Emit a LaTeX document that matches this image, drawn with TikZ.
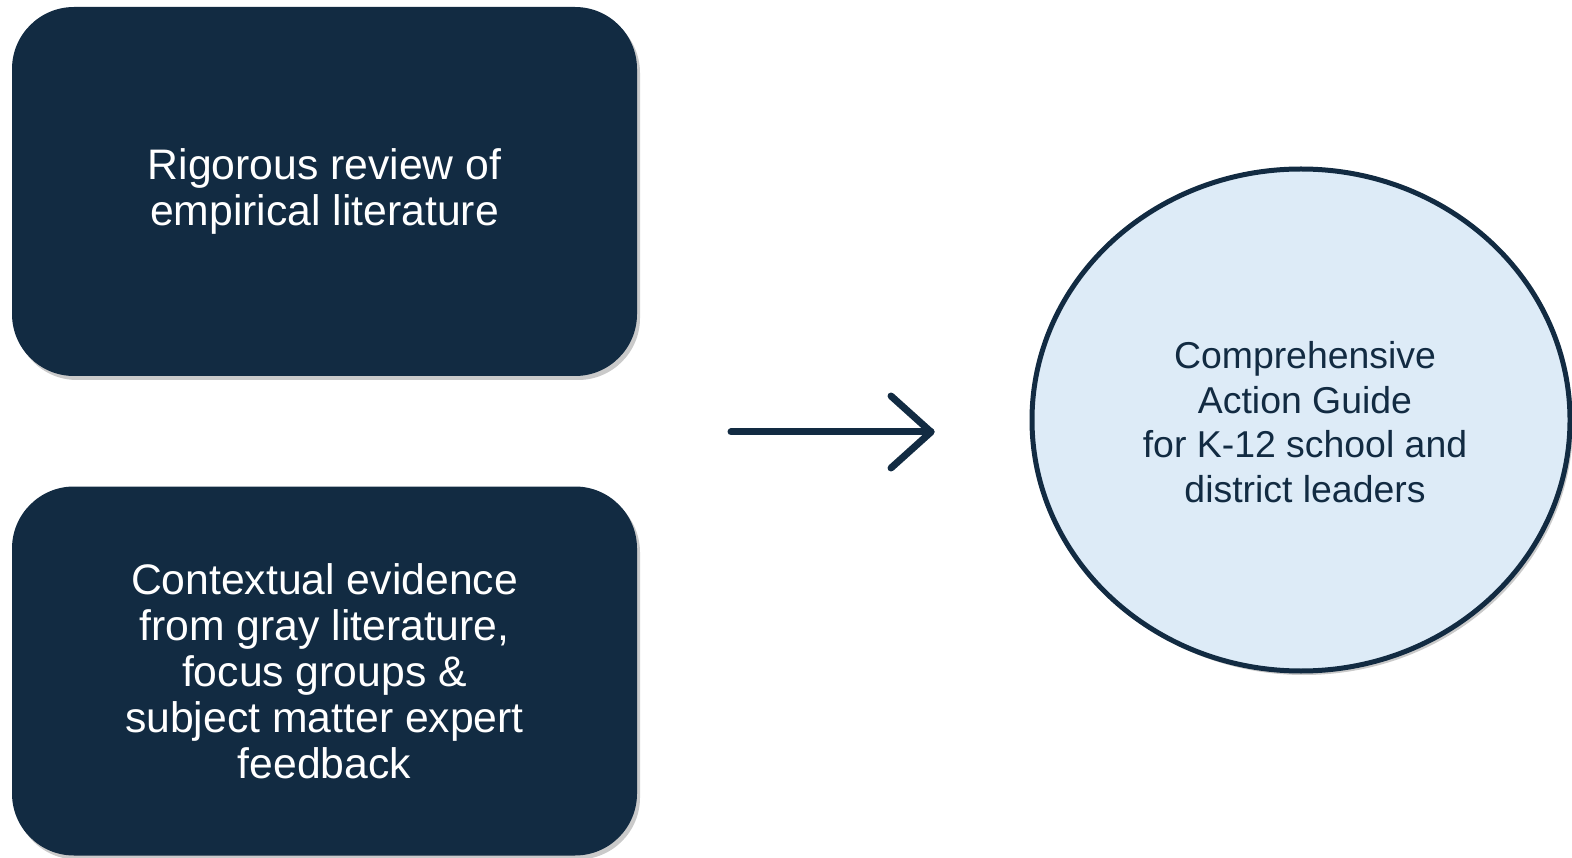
\documentclass[tikz,border=0pt]{standalone}
\usepackage{fontspec}
\setmainfont{Liberation Sans}
\usetikzlibrary{shapes.geometric,shadows}
\definecolor{navy}{HTML}{122B42}
\definecolor{paleblue}{HTML}{DDEBF7}
\begin{document}
\begin{tikzpicture}[x=1pt,y=-1pt,
  softshadow/.style={drop shadow={shadow xshift=3pt,shadow yshift=-4pt,opacity=0.35,fill=black!60}},
  sourcebox/.style={rectangle,rounded corners=62pt,fill=navy,draw=none,
    minimum width=625pt,minimum height=369pt,text=white,align=center,
    font=\fontsize{42.7}{46}\selectfont,softshadow,inner sep=0pt},
  goal/.style={ellipse,fill=paleblue,draw=navy,line width=5pt,
    minimum width=538pt,minimum height=502pt,softshadow,inner sep=0pt},
  goaltext/.style={text=navy,align=center,xshift=4pt,yshift=-2pt,
    font=\fontsize{37.4}{44.5}\selectfont},
  flow/.style={draw=navy,line width=7pt,line cap=round,line join=round}]
\useasboundingbox (0,0) rectangle (1572,858);
\node[sourcebox] (lit) at (324.5,191.5) {Rigorous review of\\empirical literature};
\node[sourcebox] (ctx) at (324.5,671) {Contextual evidence\\from gray literature,\\focus groups \&\\subject matter expert\\feedback};
\node[goal,label={[goaltext]center:{Comprehensive\\Action Guide\\for K-12 school and\\district leaders}}] (guide) at (1301,420) {};
\coordinate (tail) at (731,432);
\coordinate (head) at (931,432);
\coordinate (barbup) at (891,396);
\coordinate (barbdown) at (891,468);
\draw[flow] (tail) -- (head);
\draw[flow] (barbup) -- (head) -- (barbdown);
\end{tikzpicture}
\end{document}
